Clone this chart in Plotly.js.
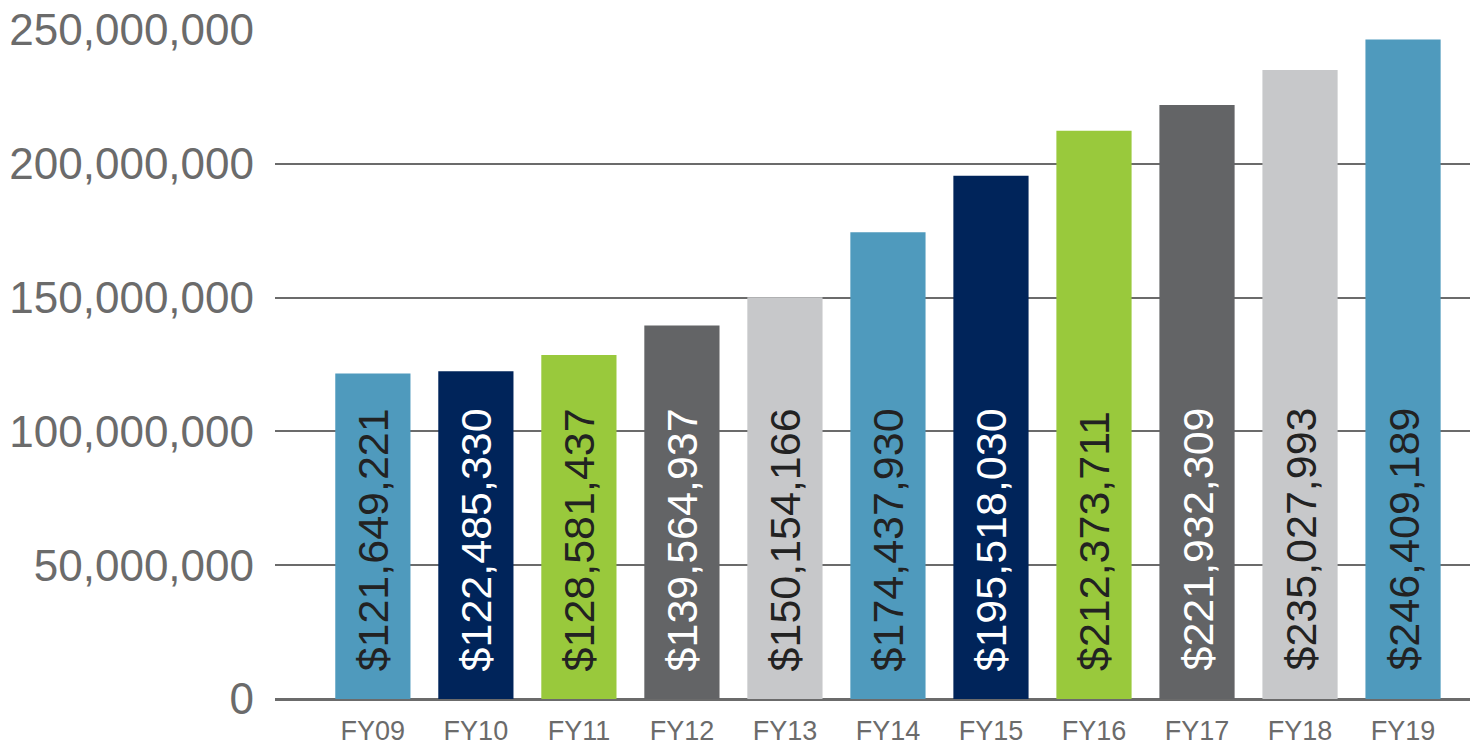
<!DOCTYPE html>
<html>
<head>
<meta charset="utf-8">
<script src="https://cdn.plot.ly/plotly-3.0.1.min.js"></script>
<style>html,body{margin:0;padding:0;background:#fff;}#chart{width:1478px;height:746px;}</style>
</head>
<body>
<div id="chart"></div>
<script>
const categories = ["FY09","FY10","FY11","FY12","FY13","FY14","FY15","FY16","FY17","FY18","FY19"];
const values = [121649221,122485330,128581437,139564937,150154166,174437930,195518030,212373711,221932309,235027993,246409189];
const barColors = ["#4f9abd","#00245a","#99c93c","#636466","#c7c8ca","#4f9abd","#00245a","#99c93c","#636466","#c7c8ca","#4f9abd"];
const textColors = ["#222222","#ffffff","#222222","#ffffff","#222222","#222222","#ffffff","#222222","#ffffff","#222222","#222222"];
const yTickVals = [0, 50000000, 100000000, 150000000, 200000000, 250000000];
const yTickText = ["0","50,000,000","100,000,000","150,000,000","200,000,000","250,000,000"];
const labels = values.map(v => "$" + v.toLocaleString("en-US"));

const FONT = "Liberation Sans, Arial, sans-serif";

const trace = {
  type: "bar",
  x: categories,
  y: values,
  marker: {color: barColors, line: {width: 0}},
  hoverinfo: "none"
};

const annotations = categories.map((c, i) => ({
  x: c, y: 0, xref: "x", yref: "y",
  text: labels[i],
  textangle: -90,
  xanchor: "center", yanchor: "bottom",
  yshift: 26,
  showarrow: false,
  font: {family: FONT, size: 43, color: textColors[i]}
}));

const layout = {
  width: 1478, height: 746,
  margin: {l: 275, r: 8, t: 30, b: 47},
  paper_bgcolor: "#ffffff",
  plot_bgcolor: "#ffffff",
  showlegend: false,
  bargap: 0.27,
  annotations: annotations,
  xaxis: {
    type: "category",
    range: [-0.95, 10.65],
    showgrid: false,
    showline: false,
    zeroline: false,
    ticks: "",
    tickfont: {family: FONT, size: 27, color: "#6b6b6b"},
    ticklabelstandoff: 13
  },
  yaxis: {
    range: [0, 250000000],
    tickvals: yTickVals,
    ticktext: yTickText,
    showgrid: true,
    gridcolor: "#6b6b6b",
    gridwidth: 2,
    zeroline: true,
    zerolinecolor: "#6b6b6b",
    zerolinewidth: 3,
    showline: false,
    ticks: "",
    tickfont: {family: FONT, size: 44, color: "#6b6b6b"},
    ticklabelstandoff: 20
  }
};

Plotly.newPlot("chart", [trace], layout, {displayModeBar: false, staticPlot: true});
</script>
</body>
</html>
